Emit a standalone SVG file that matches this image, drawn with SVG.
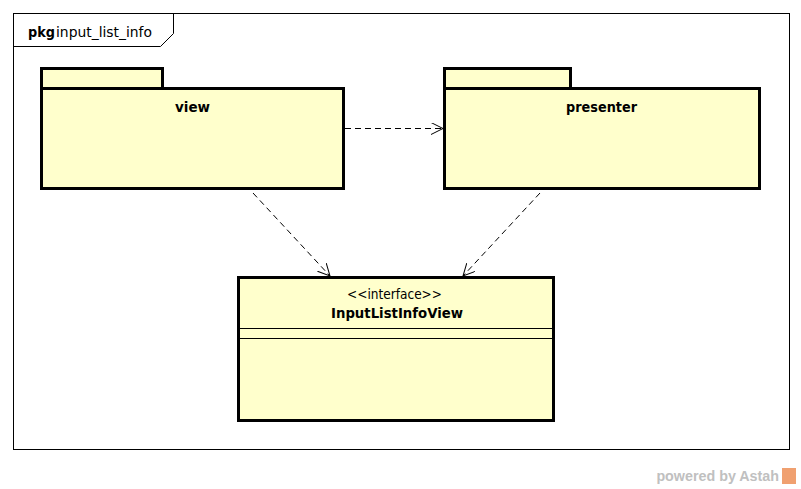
<svg xmlns="http://www.w3.org/2000/svg" width="801" height="489" viewBox="0 0 801 489">
<defs>
<style>
.pk{fill:#FFFFCC;stroke:#000;stroke-width:3}
.cl{fill:#FFFFCC;stroke:#000;stroke-width:3}
.t{font-family:"DejaVu Sans","Liberation Sans",Arial,sans-serif;font-size:14px;fill:#000}
.b{font-weight:bold}
.dep{fill:none;stroke:#000;stroke-width:1;stroke-dasharray:6,4}
</style>
<marker id="open" markerWidth="14" markerHeight="14" refX="12" refY="6" orient="auto" markerUnits="userSpaceOnUse">
<path d="M0,0 L12,6 L0,12" fill="none" stroke="#000" stroke-width="1"/>
</marker>
</defs>
<rect width="801" height="489" fill="#fff"/>
<g id="frame">
<rect x="13.5" y="13.5" width="776" height="436" fill="none" stroke="#000" stroke-width="1"/>
<path d="M13.5,46.5 H160.5 L173.5,33.5 V13.5" fill="none" stroke="#000" stroke-width="1"/>
<text x="28" y="37" class="t b" textLength="27" lengthAdjust="spacingAndGlyphs">pkg</text>
<text x="56" y="37" class="t" textLength="96" lengthAdjust="spacingAndGlyphs">input_list_info</text>
</g>
<g id="view">
<rect class="pk" x="41.5" y="68.5" width="121" height="20"/>
<rect class="pk" x="41.5" y="88.5" width="302" height="100"/>
<text x="175" y="112" class="t b" textLength="35" lengthAdjust="spacingAndGlyphs">view</text>
</g>
<g id="presenter">
<rect class="pk" x="444.5" y="68.5" width="126" height="20"/>
<rect class="pk" x="444.5" y="88.5" width="315" height="100"/>
<text x="566" y="112" class="t b" textLength="71" lengthAdjust="spacingAndGlyphs">presenter</text>
</g>
<g id="InputListInfoView">
<rect class="cl" x="238.5" y="277.5" width="315" height="143"/>
<line x1="238" y1="328.5" x2="553" y2="328.5" stroke="#000" stroke-width="1"/>
<line x1="238" y1="338.5" x2="553" y2="338.5" stroke="#000" stroke-width="1"/>
<text x="347" y="299" class="t" font-size="12" textLength="95" lengthAdjust="spacingAndGlyphs">&lt;&lt;interface&gt;&gt;</text>
<text x="331" y="318" class="t b" textLength="132" lengthAdjust="spacingAndGlyphs">InputListInfoView</text>
</g>
<g id="connectors">
<line class="dep" x1="345" y1="128.5" x2="443" y2="128.5" marker-end="url(#open)"/>
<line class="dep" x1="253" y1="193" x2="330" y2="276" marker-end="url(#open)"/>
<line class="dep" x1="540" y1="193" x2="463" y2="276" marker-end="url(#open)"/>
</g>
<g id="watermark">
<text x="779" y="481" text-anchor="end" font-family="'Liberation Sans',Arial,sans-serif" font-size="14.3" font-weight="bold" fill="#C0C0C0">powered by Astah</text>
<rect x="782" y="468" width="14" height="16" fill="#F0A070"/>
</g>
</svg>
